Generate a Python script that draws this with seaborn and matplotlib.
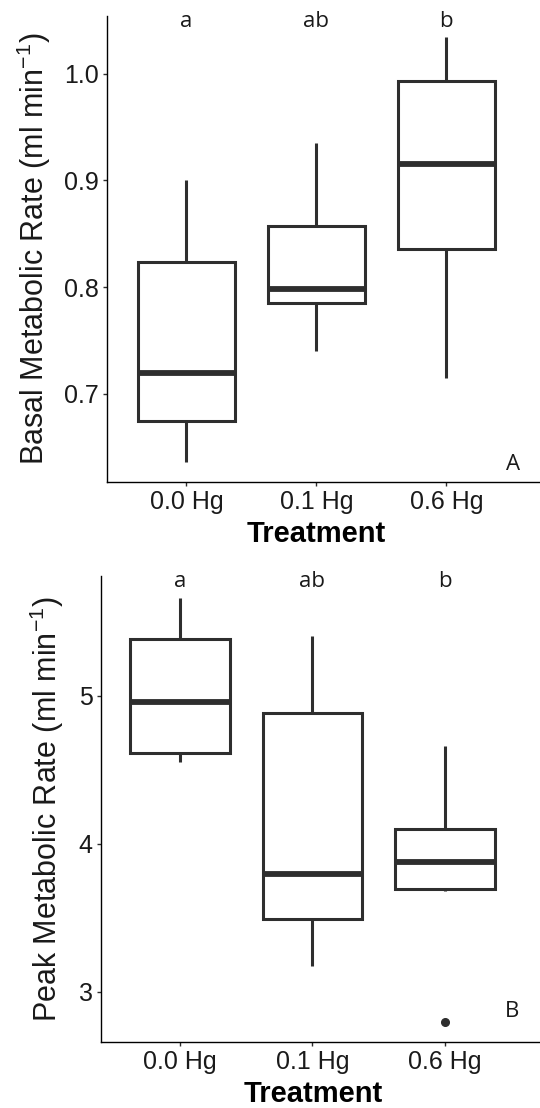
import numpy as np
import pandas as pd
import matplotlib
matplotlib.use("Agg")
import matplotlib.pyplot as plt
import seaborn as sns

# ---- data (five-number summaries; outlier included) ----
treatments = ["0.0 Hg", "0.1 Hg", "0.6 Hg"]
bmr_00 = [0.636, 0.675, 0.720, 0.824, 0.900]
bmr_01 = [0.740, 0.785, 0.798, 0.857, 0.935]
bmr_06 = [0.715, 0.836, 0.915, 0.993, 1.034]
pmr_00 = [4.554, 4.615, 4.960, 5.385, 5.662]
pmr_01 = [3.176, 3.493, 3.797, 4.885, 5.405]
pmr_06 = [2.797, 3.680, 3.696, 3.800, 3.878, 4.000, 4.101, 4.300, 4.662]
sig_letters = ["a", "ab", "b"]
panel_tags = ["A", "B"]

bmr_df = pd.DataFrame({
    "Treatment": [treatments[0]] * len(bmr_00) + [treatments[1]] * len(bmr_01) + [treatments[2]] * len(bmr_06),
    "value": bmr_00 + bmr_01 + bmr_06,
})
pmr_df = pd.DataFrame({
    "Treatment": [treatments[0]] * len(pmr_00) + [treatments[1]] * len(pmr_01) + [treatments[2]] * len(pmr_06),
    "value": pmr_00 + pmr_01 + pmr_06,
})

sns.set_theme(style="ticks")
plt.rcParams["font.family"] = ["Liberation Sans", "DejaVu Sans"]
plt.rcParams["mathtext.default"] = "regular"

W, H = 540, 1108
fig = plt.figure(figsize=(W / 100, H / 100), dpi=100)

def px_axes(left, top, right, bottom):
    return fig.add_axes([left / W, 1 - bottom / H, (right - left) / W, (bottom - top) / H])

ax1 = px_axes(107, 16, 540, 482)
ax2 = px_axes(101, 576, 540, 1042)

LC = "#2e2e2e"

def draw(ax, df, ylabel, ylim, xlim, yticks, yticklabels, ylab_x, tag, tag_xy):
    sns.boxplot(data=df, x="Treatment", y="value", order=treatments, ax=ax,
                width=0.75, color="white", linecolor=LC, linewidth=2.2,
                showcaps=False, whis=1.5,
                medianprops=dict(linewidth=4.2, color=LC),
                flierprops=dict(marker="o", markersize=5.5, markerfacecolor=LC,
                                markeredgecolor=LC))
    ax.set_ylim(*ylim)
    ax.set_xlim(*xlim)
    ax.set_yticks(yticks)
    ax.set_yticklabels(yticklabels)
    for s in ["top", "right"]:
        ax.spines[s].set_visible(False)
    for s in ["left", "bottom"]:
        ax.spines[s].set_color("black")
        ax.spines[s].set_linewidth(1.0)
    ax.tick_params(axis="both", length=3, width=1.0, color=LC, labelsize=18,
                   labelcolor="#1a1a1a", pad=3)
    ax.set_ylabel(ylabel, fontsize=22, color="#1a1a1a")
    ax.yaxis.set_label_coords(ylab_x, 0.5)
    ax.set_xlabel("Treatment", fontsize=21, fontweight="bold", color="black")
    ax.xaxis.set_label_coords(0.483, -0.082)
    ax.set_facecolor("white")
    trans = ax.get_xaxis_transform()
    for i, lab in enumerate(sig_letters):
        ax.text(i, 0.976, lab, transform=trans, ha="center", va="baseline",
                fontsize=16, family="Open Sans", color="#1a1a1a")
    ax.text(tag_xy[0], tag_xy[1], tag, transform=ax.transAxes, ha="center",
            va="baseline", fontsize=16, family="Open Sans", color="#1a1a1a")

draw(ax1, bmr_df, "Basal Metabolic Rate (ml min$^{-1}$)", (0.6175, 1.054),
     (-0.61, 2.72), [0.7, 0.8, 0.9, 1.0], ["0.7", "0.8", "0.9", "1.0"],
     -0.125, panel_tags[0], (0.938, 0.026))
draw(ax2, pmr_df, "Peak Metabolic Rate (ml min$^{-1}$)", (2.662, 5.81),
     (-0.596, 2.717), [3, 4, 5], ["3", "4", "5"],
     -0.079, panel_tags[1], (0.936, 0.054))

fig.savefig("out.png", dpi=100, facecolor="white")
